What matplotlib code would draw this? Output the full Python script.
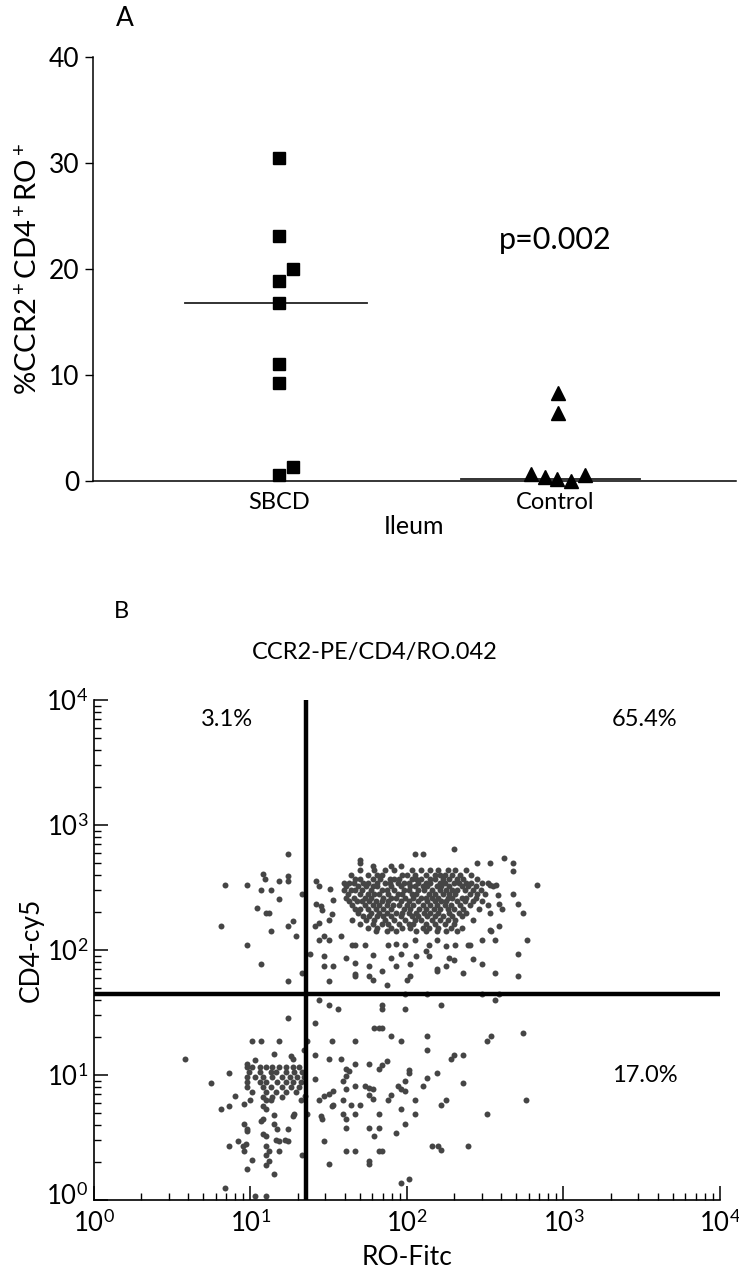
import matplotlib
matplotlib.use("Agg")
from matplotlib import pyplot as plt
from matplotlib import transforms
import numpy as np

plt.rcParams['font.family'] = ['Lato', 'DejaVu Sans']
plt.rcParams['mathtext.fontset'] = 'custom'
plt.rcParams['mathtext.rm'] = 'Lato'
plt.rcParams['mathtext.it'] = 'Lato:italic'

# ---- panel A data ----
groups = ['SBCD', 'Control']
sbcd_values = [30.5, 23.1, 20.0, 18.9, 16.8, 11.0, 9.25, 1.3, 0.55]
control_values = [8.3, 6.4, 0.7, 0.4, 0.15, 0.03, 0.55]
sbcd_median = 16.8
control_median = 0.15
p_text = 'p=0.002'

# ---- panel B data (log10 of fluorescence) ----
gate_ro = 22.6
gate_cd4 = 44.3
quadrant_pcts = ['3.1%', '65.4%', '17.0%']

upper_left = [(1.24, 2.77), (1.08, 2.61), (1.09, 2.57), (1.24, 2.59), (1.24, 2.55), (1.18, 2.55),
              (0.84, 2.52), (0.98, 2.52), (1.07, 2.48), (1.13, 2.48), (1.18, 2.41), (1.33, 2.45),
              (1.04, 2.34), (1.10, 2.30), (1.12, 2.30), (0.81, 2.19), (1.27, 2.23), (1.24, 2.19),
              (1.13, 2.15), (1.29, 2.11), (0.98, 2.04), (1.07, 1.89), (1.33, 1.82), (1.24, 1.75)]

upper_right_sparse = [(1.42, 2.55), (1.44, 2.51), (1.42, 2.37), (1.45, 2.35), (1.46, 2.32), (1.41, 2.19),
                      (1.44, 2.22), (1.44, 2.08), (1.47, 2.11), (1.47, 1.95), (1.47, 1.87), (1.50, 1.75),
                      (1.38, 1.97), (2.30, 2.81), (2.05, 2.77), (2.10, 2.77), (1.70, 2.72), (1.70, 2.70),
                      (2.45, 2.70), (2.53, 2.70), (2.62, 2.74), (2.68, 2.70), (2.68, 2.63), (2.83, 2.52),
                      (2.68, 2.45), (2.71, 2.37), (2.74, 2.30), (2.59, 2.19), (2.77, 2.08), (2.71, 1.97),
                      (2.71, 1.79), (2.56, 1.82), (2.56, 2.08), (2.48, 2.08), (2.53, 2.16), (2.48, 1.89),
                      (2.42, 1.93), (2.36, 1.82), (2.39, 2.04), (2.31, 2.04), (2.25, 1.87), (2.19, 1.85),
                      (2.19, 1.83), (2.27, 1.94), (2.30, 1.92), (2.12, 1.99), (2.14, 1.95), (2.02, 1.79),
                      (2.00, 1.76), (1.87, 1.72), (1.84, 1.83), (1.93, 1.87), (1.90, 1.94), (1.96, 1.97),
                      (2.02, 1.89), (2.06, 1.95), (1.78, 1.96), (1.76, 1.87), (1.76, 1.79), (1.78, 1.76),
                      (1.67, 1.90), (1.67, 1.81), (1.67, 1.79), (1.61, 1.94), (1.53, 1.87), (1.65, 2.04),
                      (1.67, 2.04), (1.73, 2.04), (1.58, 2.11), (1.88, 2.04), (1.93, 2.05), (1.99, 2.04),
                      (2.05, 2.08), (2.14, 2.04), (2.19, 2.08), (2.25, 2.03), (1.78, 2.67), (1.90, 2.67),
                      (1.96, 2.67), (1.51, 2.49), (1.53, 2.40), (1.52, 2.29), (1.50, 2.24), (1.50, 2.08),
                      (2.53, 2.52), (2.57, 2.52), (2.58, 2.44), (2.59, 2.37), (2.61, 2.33), (2.53, 2.30),
                      (2.54, 2.15), (2.40, 2.04), (1.99, 1.65), (2.13, 1.65), (2.48, 1.65), (2.59, 1.65)]

core_cd4 = [2.64, 2.60, 2.57, 2.54, 2.51, 2.48, 2.45, 2.42, 2.39, 2.36, 2.33, 2.30, 2.27, 2.24,
            2.21, 2.18, 2.15]
core_ro = [
    [1.70, 1.79, 1.86, 1.92, 2.03, 2.09, 2.15, 2.20, 2.26, 2.31, 2.38],
    [1.64, 1.75, 1.81, 1.84, 1.97, 2.00, 2.05, 2.12, 2.18, 2.21, 2.24, 2.29, 2.34, 2.41],
    [1.67, 1.70, 1.78, 1.83, 1.89, 1.92, 1.95, 2.03, 2.06, 2.09, 2.15, 2.18, 2.23, 2.27, 2.32, 2.36, 2.45],
    [1.60, 1.63, 1.66, 1.72, 1.75, 1.81, 1.86, 1.89, 1.94, 1.98, 2.01, 2.07, 2.12, 2.15, 2.21, 2.24,
     2.30, 2.33, 2.38, 2.41, 2.48, 2.52],
    [1.61, 1.69, 1.74, 1.78, 1.81, 1.90, 1.96, 2.02, 2.05, 2.10, 2.13, 2.19, 2.22, 2.27, 2.35, 2.39,
     2.44, 2.55],
    [1.60, 1.64, 1.67, 1.71, 1.77, 1.84, 1.87, 1.92, 1.98, 2.01, 2.07, 2.11, 2.16, 2.21, 2.25, 2.29,
     2.32, 2.37, 2.42, 2.47],
    [1.62, 1.70, 1.75, 1.79, 1.82, 1.88, 1.94, 1.97, 2.03, 2.06, 2.14, 2.18, 2.23, 2.27, 2.31, 2.40,
     2.45, 2.50],
    [1.61, 1.66, 1.73, 1.77, 1.85, 1.90, 1.93, 1.99, 2.04, 2.09, 2.12, 2.16, 2.20, 2.26, 2.29, 2.35,
     2.38, 2.44],
    [1.63, 1.68, 1.71, 1.76, 1.80, 1.84, 1.88, 1.96, 2.01, 2.07, 2.13, 2.18, 2.22, 2.25, 2.32, 2.37,
     2.42, 2.48],
    [1.65, 1.73, 1.78, 1.82, 1.87, 1.91, 1.95, 2.00, 2.04, 2.10, 2.15, 2.19, 2.24, 2.28, 2.34, 2.40, 2.52],
    [1.67, 1.70, 1.75, 1.80, 1.85, 1.90, 1.98, 2.02, 2.08, 2.12, 2.17, 2.21, 2.26, 2.30, 2.36, 2.46],
    [1.69, 1.77, 1.82, 1.87, 1.93, 1.97, 2.01, 2.06, 2.11, 2.15, 2.20, 2.27, 2.33, 2.38],
    [1.72, 1.76, 1.81, 1.85, 1.90, 1.96, 2.03, 2.07, 2.13, 2.18, 2.23, 2.29, 2.35],
    [1.65, 1.74, 1.79, 1.86, 1.92, 1.99, 2.05, 2.09, 2.16, 2.21, 2.26, 2.31, 2.42],
    [1.70, 1.78, 1.84, 1.88, 1.95, 2.01, 2.04, 2.12, 2.18, 2.24, 2.30],
    [1.75, 1.81, 1.90, 1.97, 2.02, 2.10, 2.14, 2.20, 2.28, 2.35],
    [1.80, 1.87, 1.93, 2.06, 2.12, 2.19, 2.25, 2.32],
]

low_cluster_cd4 = [1.067, 1.027, 0.987, 0.947, 0.907, 0.867, 0.827]
low_cluster_ro = [
    [0.98, 1.01, 1.06, 1.10, 1.14, 1.18, 1.23, 1.27, 1.31],
    [0.99, 1.06, 1.13, 1.16, 1.23, 1.28, 1.33],
    [0.98, 1.03, 1.08, 1.14, 1.20, 1.25, 1.30, 1.34],
    [0.98, 1.06, 1.10, 1.17, 1.23, 1.27, 1.32],
    [0.98, 1.08, 1.13, 1.20, 1.26, 1.31],
    [1.01, 1.10, 1.16, 1.23, 1.29],
    [1.08, 1.14, 1.20],
]

lower_left = [(1.24, 1.46), (1.01, 1.27), (1.07, 1.27), (1.18, 1.27), (0.58, 1.13), (1.15, 1.17),
              (1.26, 1.15), (1.27, 1.13), (1.34, 1.20), (0.98, 1.09), (1.03, 1.12), (0.86, 1.02),
              (0.75, 0.94), (0.90, 0.83), (0.86, 0.75), (0.81, 0.73), (0.96, 0.77), (1.00, 0.80),
              (1.10, 0.80), (1.08, 0.75), (1.10, 0.73), (1.13, 0.80), (1.15, 0.68), (1.27, 0.67),
              (1.28, 0.69), (1.32, 0.80), (1.35, 0.83), (1.08, 0.65), (1.07, 0.63), (0.96, 0.61),
              (0.98, 0.57), (0.98, 0.55), (1.08, 0.53), (1.10, 0.51), (1.15, 0.61), (1.17, 0.57),
              (1.24, 0.57), (1.16, 0.48), (1.18, 0.47), (1.22, 0.48), (1.24, 0.47), (0.86, 0.43),
              (0.92, 0.47), (0.95, 0.43), (0.97, 0.45), (0.96, 0.39), (1.10, 0.43), (1.12, 0.39),
              (1.10, 0.36), (1.18, 0.39), (1.01, 0.32), (1.10, 0.28), (1.12, 0.31), (0.98, 0.25),
              (1.15, 0.21), (1.33, 0.36), (0.84, 0.10), (1.03, 0.03), (1.10, 0.03), (1.36, 1.27),
              (1.36, 0.69)]

lower_right = [(1.44, 1.60), (1.50, 1.56), (1.56, 1.53), (1.41, 1.42), (1.52, 1.27), (1.41, 1.16),
               (1.50, 1.13), (1.41, 0.97), (1.44, 0.80), (1.47, 0.83), (1.50, 0.85), (1.45, 0.67),
               (1.46, 0.65), (1.52, 0.75), (1.47, 0.47), (1.50, 0.29), (1.84, 1.56), (1.84, 1.53),
               (1.99, 1.53), (2.22, 1.56), (2.56, 1.60), (1.79, 1.38), (1.82, 1.38), (1.84, 1.38),
               (1.90, 1.31), (1.96, 1.27), (2.13, 1.31), (2.13, 1.20), (1.67, 1.27), (2.51, 1.27),
               (2.54, 1.31), (2.74, 1.34), (2.28, 1.13), (2.30, 1.16), (2.36, 1.16), (1.58, 1.13),
               (1.67, 1.09), (1.76, 1.09), (1.82, 1.05), (1.84, 1.08), (1.87, 1.11), (1.61, 1.05),
               (1.63, 1.03), (1.61, 0.99), (2.01, 1.04), (2.01, 1.02), (2.19, 1.02), (2.13, 0.98),
               (1.99, 0.95), (1.94, 0.91), (1.96, 0.89), (1.99, 0.87), (2.10, 0.91), (2.36, 0.94),
               (1.59, 0.95), (1.53, 0.87), (1.61, 0.89), (1.59, 0.80), (1.67, 0.91), (1.73, 0.91),
               (1.76, 0.90), (1.78, 0.89), (1.76, 0.84), (1.78, 0.81), (1.90, 0.84), (1.88, 0.80),
               (2.05, 0.80), (1.53, 0.76), (1.64, 0.76), (1.70, 0.76), (1.59, 0.69), (1.61, 0.65),
               (1.67, 0.69), (1.82, 0.69), (1.96, 0.73), (2.05, 0.69), (2.22, 0.76), (2.25, 0.80),
               (2.51, 0.69), (2.76, 0.80), (1.61, 0.58), (1.76, 0.58), (1.82, 0.58), (1.99, 0.61),
               (1.79, 0.51), (1.93, 0.54), (1.61, 0.39), (1.67, 0.39), (1.82, 0.39), (1.84, 0.39),
               (2.16, 0.43), (2.20, 0.43), (2.22, 0.40), (2.39, 0.43), (1.76, 0.31), (1.76, 0.29),
               (1.96, 0.14), (2.01, 0.17)]


def collect_events():
    ro, cd4 = [], []
    for pts in (upper_left, upper_right_sparse, lower_left, lower_right):
        for x, y in pts:
            ro.append(x)
            cd4.append(y)
    for rows_y, rows_x in ((core_cd4, core_ro), (low_cluster_cd4, low_cluster_ro)):
        for y, xs in zip(rows_y, rows_x):
            for x in xs:
                ro.append(x)
                cd4.append(y)
    return np.power(10.0, ro), np.power(10.0, cd4)


def panel_a(fig):
    ax = fig.add_axes([0.1258, 0.6242, 0.870, 0.33125])
    sbcd_jitter = [0, 0, 0.05, 0, 0, 0, 0, 0.05, 0]
    control_jitter = [0.01, 0.01, -0.087, -0.036, 0.007, 0.058, 0.109]
    ax.plot([1 + j for j in sbcd_jitter], sbcd_values, 's', color='black', markersize=8.5,
            clip_on=False, zorder=3)
    ax.plot([2 + j for j in control_jitter], control_values, '^', color='black', markersize=9.5,
            clip_on=False, zorder=3)
    ax.plot([0.66, 1.32], [sbcd_median] * 2, color='#222222', linewidth=1.3)
    ax.plot([1.66, 2.31], [control_median] * 2, color='#222222', linewidth=1.3)

    ax.set_xlim(0.326, 2.656)
    ax.set_ylim(0, 40)
    ax.set_xticks([1, 2])
    ax.set_xticklabels(groups, fontsize=17)
    ax.set_yticks([0, 10, 20, 30, 40])
    ax.tick_params(axis='y', direction='out', length=6, width=1, labelsize=19, pad=4)
    ax.tick_params(axis='x', length=0, pad=8)
    for side in ('top', 'right'):
        ax.spines[side].set_visible(False)
    for side in ('left', 'bottom'):
        ax.spines[side].set_linewidth(1.1)
    ax.set_xlabel('Ileum', fontsize=18, labelpad=1)
    ax.set_ylabel(r'%CCR2$^+$CD4$^+$RO$^+$', fontsize=21, labelpad=5)
    ax.text(2.0, 22.7, p_text, fontsize=22, ha='center', va='center')
    fig.text(125 / 739, 1 - 18 / 1280, 'A', fontsize=19, ha='center', va='center')


def panel_b(fig):
    ax = fig.add_axes([0.1272, 0.0625, 0.847, 0.3906])
    ro, cd4 = collect_events()
    ax.plot(ro, cd4, 'o', color='#454545', markersize=4.3, markeredgewidth=0, zorder=2)
    ax.plot([gate_ro, gate_ro], [1, 1e4], color='black', linewidth=3.2, zorder=3)
    ax.plot([1, 1e4], [gate_cd4, gate_cd4], color='black', linewidth=3.2, zorder=3)

    ax.set_xscale('log')
    ax.set_yscale('log')
    ax.set_xlim(1, 1e4)
    ax.set_ylim(1, 1e4)
    ax.set_xticks([1, 10, 100, 1000, 10000])
    ax.set_yticks([1, 10, 100, 1000, 10000])
    ax.set_xticklabels([r'$10^{%d}$' % i for i in range(5)])
    ax.set_yticklabels([r'$10^{%d}$' % i for i in range(5)])
    ax.tick_params(which='major', direction='in', length=10, width=1.1, labelsize=18.5)
    ax.tick_params(which='minor', direction='in', length=5, width=1.0)
    ax.tick_params(axis='x', which='major', pad=7)
    ax.tick_params(axis='y', which='major', pad=4)
    # the lowest y label sits a little above its tick, as in the original print
    low_label = ax.get_yticklabels()[0]
    low_label.set_transform(low_label.get_transform() +
                            transforms.ScaledTranslation(0, 4 / 72, fig.dpi_scale_trans))
    for side in ('top', 'right'):
        ax.spines[side].set_visible(False)
    for side in ('left', 'bottom'):
        ax.spines[side].set_linewidth(1.2)
    ax.set_xlabel('RO-Fitc', fontsize=19, labelpad=6)
    ax.set_ylabel('CD4-cy5', fontsize=19, labelpad=2)

    ax.text(227 / 739, 1 - 720 / 1280, quadrant_pcts[0], transform=fig.transFigure,
            fontsize=17, ha='center', va='center')
    ax.text(645 / 739, 1 - 720 / 1280, quadrant_pcts[1], transform=fig.transFigure,
            fontsize=17, ha='center', va='center')
    ax.text(645 / 739, 1 - 1075 / 1280, quadrant_pcts[2], transform=fig.transFigure,
            fontsize=17, ha='center', va='center')
    fig.text(375 / 739, 1 - 652 / 1280, 'CCR2-PE/CD4/RO.042', fontsize=17, ha='center', va='center')
    fig.text(121 / 739, 1 - 611 / 1280, 'B', fontsize=17, ha='center', va='center')


def main():
    fig = plt.figure(figsize=(7.39, 12.80), dpi=100)
    panel_a(fig)
    panel_b(fig)
    fig.savefig('out.png', dpi=100)


if __name__ == "__main__":
    main()
